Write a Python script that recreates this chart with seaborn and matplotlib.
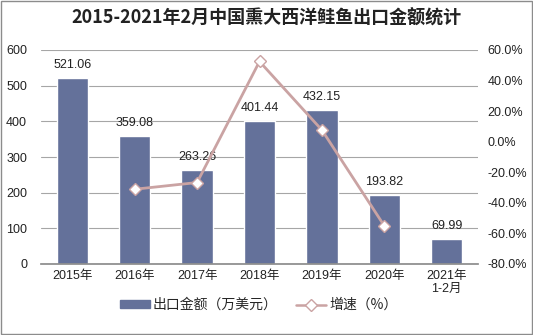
import matplotlib
matplotlib.use("Agg")
import matplotlib.pyplot as plt
import seaborn as sns
import numpy as np
import pandas as pd
from matplotlib.lines import Line2D
from matplotlib.patches import Patch, Rectangle

categories = ["2015年", "2016年", "2017年", "2018年", "2019年", "2020年", "2021年\n1-2月"]
export_values = [521.06, 359.08, 263.26, 401.44, 432.15, 193.82, 69.99]
growth_categories = ["2016年", "2017年", "2018年", "2019年", "2020年"]
growth_values = [-31.1, -26.7, 52.5, 7.6, -55.1]
left_ticks = [0, 100, 200, 300, 400, 500, 600]
right_ticks = [-80, -60, -40, -20, 0, 20, 40, 60]

BAR = "#64719a"
LINE = "#caa3a3"
GRID = "#a6a6a6"

sns.set_theme(style="white")
plt.rcParams["font.family"] = ["Liberation Sans", "Noto Sans CJK SC", "DejaVu Sans"]

fig = plt.figure(figsize=(5.33, 3.35), dpi=100)
ax = fig.add_axes([41/533, 1-264/335, (478-41)/533, (264-50)/335])

df = pd.DataFrame({"cat": categories, "val": export_values})
sns.barplot(data=df, x="cat", y="val", color=BAR, saturation=1, width=0.5, ax=ax)
for c in ax.containers:
    ax.bar_label(c, labels=[f"{v:.2f}" for v in export_values], padding=5, fontsize=9, color="#222222")

ax.set_ylim(0, 600)
ax.set_yticks(left_ticks)
ax.set_xlim(-0.5, len(categories) - 0.5)
ax.set_xlabel("")
ax.set_ylabel("")
ax.yaxis.grid(True, color=GRID, linewidth=0.8)
ax.set_axisbelow(True)
for s in ["top", "left", "right"]:
    ax.spines[s].set_visible(False)
ax.spines["bottom"].set_color("#8c8c8c")
ax.tick_params(axis="y", length=0, labelsize=9, pad=10, colors="#222222")
ax.tick_params(axis="x", length=0, labelsize=9, pad=4, colors="#222222")
ax.set_xticks(np.arange(-0.5, len(categories)), minor=True)
ax.tick_params(axis="x", which="minor", length=4, color="#8c8c8c", direction="out")

ax2 = ax.twinx()
pos = [categories.index(c) for c in growth_categories]
gdf = pd.DataFrame({"x": pos, "g": growth_values})
sns.lineplot(data=gdf, x="x", y="g", color=LINE, linewidth=2, marker="D",
             markersize=6, markerfacecolor="white", markeredgecolor=LINE,
             markeredgewidth=1, ax=ax2)
ax2.set_ylim(-80, 60)
ax2.set_yticks(right_ticks)
ax2.set_yticklabels([f"{t:.1f}%" for t in right_ticks])
ax2.set_ylabel("")
ax2.set_xlabel("")
ax2.tick_params(axis="y", length=0, labelsize=9, pad=7, colors="#222222")
for s in ["top", "left", "right", "bottom"]:
    ax2.spines[s].set_visible(False)
ax2.grid(False)
ax.set_xlim(-0.5, len(categories) - 0.5)

fig.text(0.5, 1-18/335, "2015-2021年2月中国熏大西洋鲑鱼出口金额统计",
         ha="center", va="center", fontsize=13, fontweight="bold",
         family=["Noto Sans CJK SC", "DejaVu Sans"], color="#222222")

handles = [Patch(facecolor=BAR, edgecolor=BAR),
           Line2D([0], [0], color=LINE, linewidth=1.8, marker="D", markersize=6,
                  markerfacecolor="white", markeredgecolor=LINE)]
fig.legend(handles, ["出口金额（万美元）", "增速（%）"], loc="center",
           bbox_to_anchor=(0.485, 1-305/335), ncol=2, frameon=False,
           handlelength=2.2, handleheight=0.5, columnspacing=1.3,
           handletextpad=0.2, prop={"family": ["Noto Sans CJK SC", "DejaVu Sans"], "size": 10})

fig.patches.append(Rectangle((0.002, 0.003), 0.996, 0.994, transform=fig.transFigure,
                             fill=False, edgecolor="#8c8c8c", linewidth=1))

fig.savefig("out.png", dpi=100)
